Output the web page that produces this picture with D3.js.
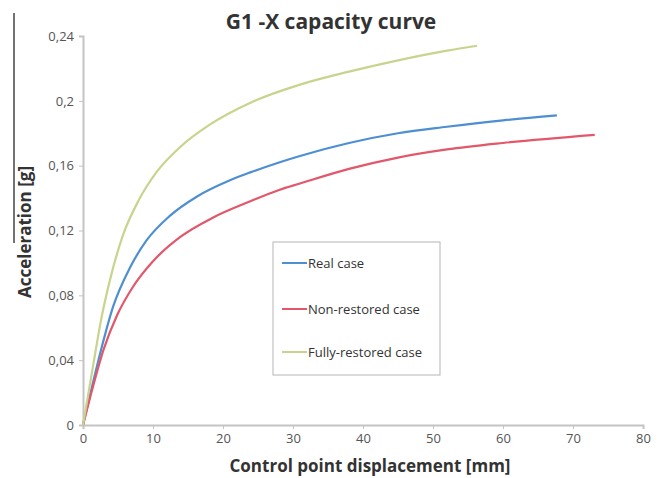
<!DOCTYPE html>
<html>
<head>
<meta charset="utf-8">
<script src="https://cdn.jsdelivr.net/npm/d3@7"></script>
<style>
  body { margin: 0; background: #fff; }
  #chart-1 { width: 663px; height: 478px; }
  text { font-family: "Open Sans", "Noto Sans", sans-serif; }
</style>
</head>
<body>
<div id="chart-1"></div>
<script>
// values: [displacement mm, acceleration g]
var realCase = [[0,0],[1.2,0.022],[2.5,0.045],[4.3,0.073],[6.7,0.097],[9.1,0.114],[12.4,0.129],
    [16.3,0.141],[21,0.151],[24,0.156],[28,0.162],[31,0.166],[38,0.174],[45,0.180],
    [52,0.184],[60,0.188],[67.7,0.191]];
var nonRestored = [[0,0],[1.2,0.020],[2.9,0.046],[4.9,0.068],[7.1,0.085],[10,0.101],[13.9,0.116],
    [18.6,0.128],[23.9,0.138],[28,0.145],[31,0.149],[38,0.158],[45,0.165],[52,0.170],
    [60,0.174],[73.1,0.179]];
var fullyRestored = [[0,0],[1.5,0.038],[2.5,0.063],[4,0.092],[5.7,0.117],[8,0.139],[10.5,0.156],
    [14,0.172],[18,0.185],[24,0.199],[31,0.210],[38,0.218],[45,0.225],[52,0.231],[56.3,0.234]];

var seriesNames = ["Real case", "Non-restored case", "Fully-restored case"];
var seriesColors = ["#4d8fd1", "#e2576a", "#c8d48e"];
var yTicks = [0, 0.04, 0.08, 0.12, 0.16, 0.2, 0.24];
var xTicks = [0, 10, 20, 30, 40, 50, 60, 70, 80];

var margin = {top: 36, right: 20, bottom: 53, left: 83},
    width = 643 - margin.left,
    height = 425 - margin.top;

var svg = d3.select("#chart-1")
    .append("svg")
    .attr("width", 663)
    .attr("height", 478);

// stray scan edge on the left
svg.append("line")
    .attr("x1", 14).attr("x2", 14)
    .attr("y1", 13).attr("y2", 243)
    .style("stroke", "#444")
    .style("stroke-width", "1.5px");

var g = svg.append("g")
    .attr("transform", "translate(" + margin.left + "," + margin.top + ")");

var x = d3.scaleLinear().domain([0, 80]).range([0, width]);
var y = d3.scaleLinear().domain([0, 0.24]).range([height, 0]);

var fmt = function(d) { return String(+d.toFixed(2)).replace(".", ","); };

var xAxis = d3.axisBottom(x).tickValues(xTicks).tickSize(4).tickPadding(5).tickFormat(function(d){ return d; });
var yAxis = d3.axisLeft(y).tickValues(yTicks).tickSize(4).tickPadding(5).tickFormat(fmt);

var gx = g.append("g")
    .attr("class", "x axis")
    .attr("transform", "translate(0," + height + ")")
    .call(xAxis);
var gy = g.append("g")
    .attr("class", "y axis")
    .call(yAxis);

[gx, gy].forEach(function(a){
    a.select(".domain").style("stroke", "#c4c4c4").style("stroke-width", "2px");
    a.selectAll(".tick line").style("stroke", "#c4c4c4").style("stroke-width", "1px");
    a.selectAll(".tick text")
        .style("fill", "#555")
        .style("font-size", "13px")
        .style("font-family", "'Open Sans', sans-serif");
});

var line = d3.line()
    .x(function(d) { return x(d[0]); })
    .y(function(d) { return y(d[1]); })
    .curve(d3.curveMonotoneX);

[realCase, nonRestored, fullyRestored].forEach(function(s, i){
    g.append("path")
        .attr("class", "line")
        .attr("d", line(s))
        .style("fill", "none")
        .style("stroke", seriesColors[i])
        .style("stroke-width", "2.2px");
});

// title and axis labels
svg.append("text")
    .attr("x", 331).attr("y", 29)
    .attr("text-anchor", "middle")
    .style("font-size", "21px").style("font-weight", "bold").style("fill", "#333")
    .text("G1 -X capacity curve");

svg.append("text")
    .attr("x", 370).attr("y", 472)
    .attr("text-anchor", "middle")
    .style("font-size", "17px").style("font-weight", "bold").style("fill", "#333")
    .text("Control point displacement [mm]");

svg.append("text")
    .attr("transform", "translate(31,232) rotate(-90)")
    .attr("text-anchor", "middle")
    .style("font-size", "17px").style("font-weight", "bold").style("fill", "#333")
    .text("Acceleration [g]");

// legend
var legend = svg.append("g").attr("transform", "translate(273,242)");
legend.append("rect")
    .attr("width", 167).attr("height", 133)
    .style("fill", "#fff").style("stroke", "#b5b5b5").style("stroke-width", "1px");

var ly = [21, 67, 110];
seriesNames.forEach(function(name, i){
    legend.append("line")
        .attr("x1", 9).attr("x2", 34)
        .attr("y1", ly[i]).attr("y2", ly[i])
        .style("stroke", seriesColors[i]).style("stroke-width", "2px");
    legend.append("text")
        .attr("x", 35).attr("y", ly[i] + 4.5)
        .style("font-size", "13px").style("fill", "#333")
        .text(name);
});
</script>
</body>
</html>
